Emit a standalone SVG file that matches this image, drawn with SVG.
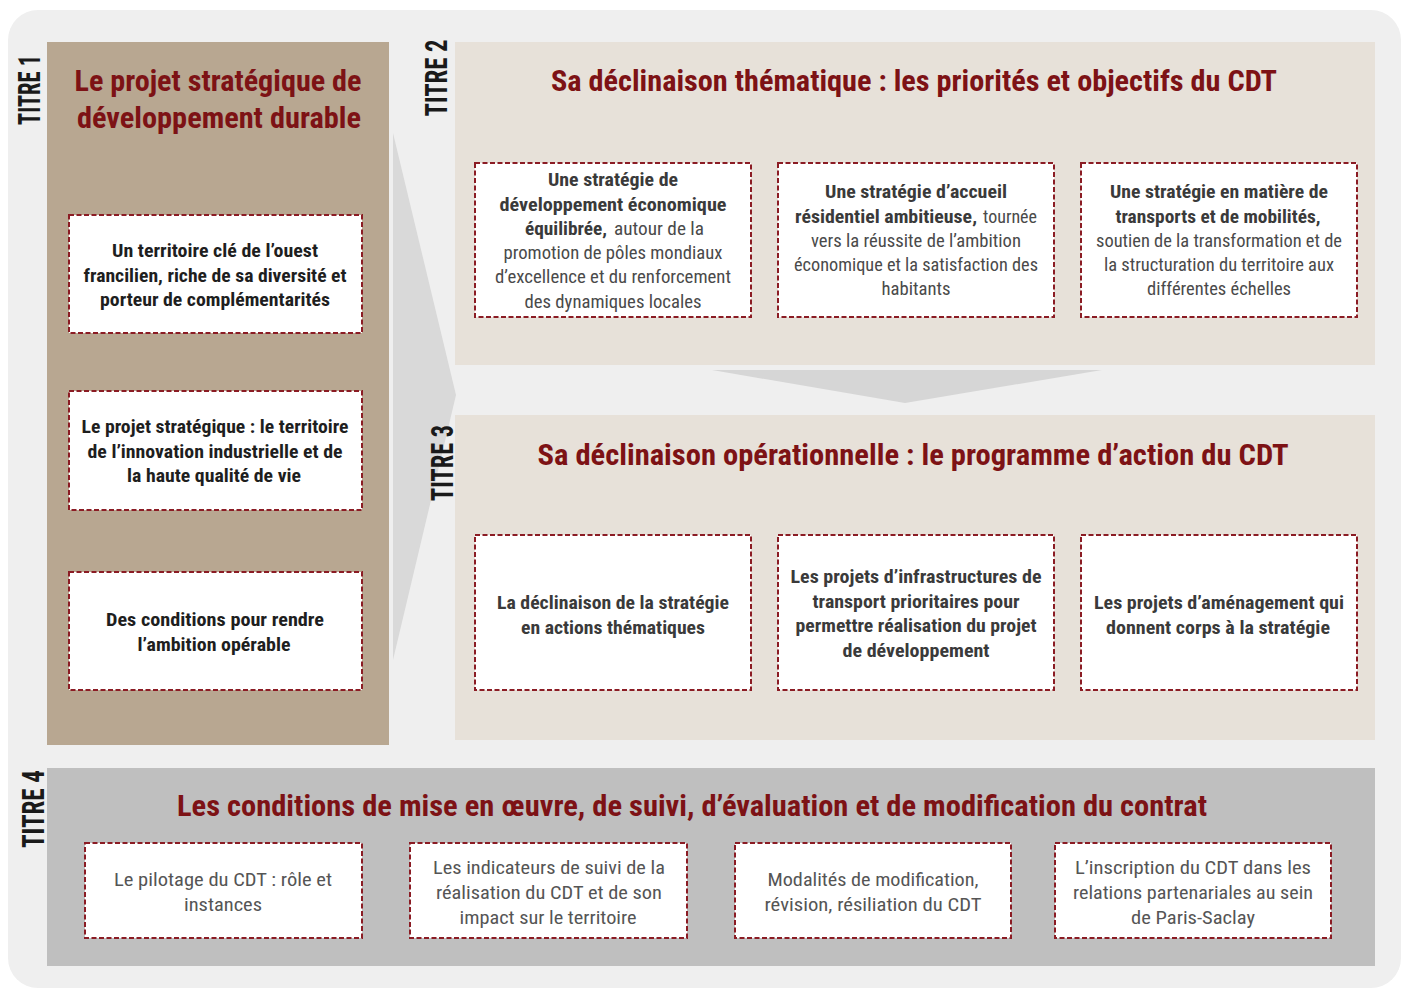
<svg xmlns="http://www.w3.org/2000/svg" width="1407" height="989" viewBox="0 0 1407 989">
<style>
.box{fill:#ffffff;stroke:#8b1c24;stroke-width:2;stroke-dasharray:5 2.5}
.t{font-family:"Liberation Sans Narrow","Roboto Condensed","Liberation Sans",Arial,sans-serif;text-anchor:middle}
.title{font-size:29px;font-weight:bold;fill:#7d1215}
.lab{font-size:32px;font-weight:bold;fill:#1a1a1a}
.b1{font-size:19px;font-weight:bold;fill:#1e1e1e}
.bb{font-size:18.5px;font-weight:bold;fill:#3a3a3a}
.r{font-size:18.5px;fill:#4a4a4a}
.r4{font-size:19px;fill:#555555}
</style>
<rect x="0" y="0" width="1407" height="989" fill="#ffffff"/>
<rect x="8" y="10" width="1393" height="978" rx="30" fill="#efefef"/>

<g id="connectors">
<polygon points="393,133 456,395 393,660" fill="#d9d9d9"/>
<polygon points="712,370 1102,370 905,403" fill="#d6d6d6"/>
</g>

<g id="titre1">
<rect x="47" y="42" width="342" height="703" fill="#b8a791"/>
<text class="t lab" transform="translate(40,90) rotate(-90)" textLength="70" lengthAdjust="spacingAndGlyphs">TITRE 1</text>
<text class="t title" x="218" y="91" textLength="287" lengthAdjust="spacingAndGlyphs">Le projet stratégique de</text>
<text class="t title" x="219" y="128" textLength="284" lengthAdjust="spacingAndGlyphs">développement durable</text>
</g>
<g id="t1b1">
<rect class="box" x="69" y="215" width="293" height="118"/>
<text class="t b1" x="215" y="257" textLength="206" lengthAdjust="spacingAndGlyphs">Un territoire clé de l’ouest</text>
<text class="t b1" x="215" y="282" textLength="263" lengthAdjust="spacingAndGlyphs">francilien, riche de sa diversité et</text>
<text class="t b1" x="215" y="306" textLength="230" lengthAdjust="spacingAndGlyphs">porteur de complémentarités</text>
</g>
<g id="t1b2">
<rect class="box" x="69" y="391" width="293" height="119"/>
<text class="t b1" x="215" y="433" textLength="267" lengthAdjust="spacingAndGlyphs">Le projet stratégique : le territoire</text>
<text class="t b1" x="215" y="458" textLength="255" lengthAdjust="spacingAndGlyphs">de l’innovation industrielle et de</text>
<text class="t b1" x="214" y="482" textLength="174" lengthAdjust="spacingAndGlyphs">la haute qualité de vie</text>
</g>
<g id="t1b3">
<rect class="box" x="69" y="572" width="293" height="118"/>
<text class="t b1" x="215" y="626" textLength="218" lengthAdjust="spacingAndGlyphs">Des conditions pour rendre</text>
<text class="t b1" x="214" y="651" textLength="153" lengthAdjust="spacingAndGlyphs">l’ambition opérable</text>
</g>

<g id="titre2">
<rect x="455" y="42" width="920" height="323" fill="#e7e1d9"/>
<text class="t lab" transform="translate(447,78) rotate(-90)" textLength="77" lengthAdjust="spacingAndGlyphs">TITRE 2</text>
<text class="t title" x="914" y="91" textLength="726" lengthAdjust="spacingAndGlyphs">Sa déclinaison thématique : les priorités et objectifs du CDT</text>
</g>
<g id="t2b1">
<rect class="box" x="475" y="163" width="276" height="154"/>
<text class="t bb" x="613" y="186" textLength="130" lengthAdjust="spacingAndGlyphs">Une stratégie de</text>
<text class="t bb" x="613" y="211" textLength="227" lengthAdjust="spacingAndGlyphs">développement économique</text>
<text class="t bb" x="566" y="235" textLength="82" lengthAdjust="spacingAndGlyphs">équilibrée,</text>
<text class="t r" x="659" y="235" textLength="90" lengthAdjust="spacingAndGlyphs">autour de la</text>
<text class="t r" x="613" y="259" textLength="219" lengthAdjust="spacingAndGlyphs">promotion de pôles mondiaux</text>
<text class="t r" x="613" y="283" textLength="236" lengthAdjust="spacingAndGlyphs">d’excellence et du renforcement</text>
<text class="t r" x="613" y="308" textLength="177" lengthAdjust="spacingAndGlyphs">des dynamiques locales</text>
</g>
<g id="t2b2">
<rect class="box" x="778" y="163" width="276" height="154"/>
<text class="t bb" x="916" y="198" textLength="182" lengthAdjust="spacingAndGlyphs">Une stratégie d’accueil</text>
<text class="t bb" x="886" y="223" textLength="182" lengthAdjust="spacingAndGlyphs">résidentiel ambitieuse,</text>
<text class="t r" x="1010" y="223" textLength="54" lengthAdjust="spacingAndGlyphs">tournée</text>
<text class="t r" x="916" y="247" textLength="210" lengthAdjust="spacingAndGlyphs">vers la réussite de l’ambition</text>
<text class="t r" x="916" y="271" textLength="244" lengthAdjust="spacingAndGlyphs">économique et la satisfaction des</text>
<text class="t r" x="916" y="295" textLength="69" lengthAdjust="spacingAndGlyphs">habitants</text>
</g>
<g id="t2b3">
<rect class="box" x="1081" y="163" width="276" height="154"/>
<text class="t bb" x="1219" y="198" textLength="218" lengthAdjust="spacingAndGlyphs">Une stratégie en matière de</text>
<text class="t bb" x="1218" y="223" textLength="205" lengthAdjust="spacingAndGlyphs">transports et de mobilités,</text>
<text class="t r" x="1219" y="247" textLength="246" lengthAdjust="spacingAndGlyphs">soutien de la transformation et de</text>
<text class="t r" x="1219" y="271" textLength="230" lengthAdjust="spacingAndGlyphs">la structuration du territoire aux</text>
<text class="t r" x="1219" y="295" textLength="144" lengthAdjust="spacingAndGlyphs">différentes échelles</text>
</g>

<g id="titre3">
<rect x="455" y="415" width="920" height="325" fill="#e7e1d9"/>
<text class="t lab" transform="translate(453,463) rotate(-90)" textLength="76" lengthAdjust="spacingAndGlyphs">TITRE 3</text>
<text class="t title" x="913" y="465" textLength="751" lengthAdjust="spacingAndGlyphs">Sa déclinaison opérationnelle : le programme d’action du CDT</text>
</g>
<g id="t3b1">
<rect class="box" x="475" y="535" width="276" height="155"/>
<text class="t bb" x="613" y="609" textLength="232" lengthAdjust="spacingAndGlyphs">La déclinaison de la stratégie</text>
<text class="t bb" x="613" y="634" textLength="184" lengthAdjust="spacingAndGlyphs">en actions thématiques</text>
</g>
<g id="t3b2">
<rect class="box" x="778" y="535" width="276" height="155"/>
<text class="t bb" x="916" y="583" textLength="251" lengthAdjust="spacingAndGlyphs">Les projets d’infrastructures de</text>
<text class="t bb" x="916" y="608" textLength="207" lengthAdjust="spacingAndGlyphs">transport prioritaires pour</text>
<text class="t bb" x="916" y="632" textLength="241" lengthAdjust="spacingAndGlyphs">permettre réalisation du projet</text>
<text class="t bb" x="916" y="657" textLength="147" lengthAdjust="spacingAndGlyphs">de développement</text>
</g>
<g id="t3b3">
<rect class="box" x="1081" y="535" width="276" height="155"/>
<text class="t bb" x="1219" y="609" textLength="250" lengthAdjust="spacingAndGlyphs">Les projets d’aménagement qui</text>
<text class="t bb" x="1218" y="634" textLength="224" lengthAdjust="spacingAndGlyphs">donnent corps à la stratégie</text>
</g>

<g id="titre4">
<rect x="47" y="768" width="1328" height="198" fill="#bfbfbf"/>
<text class="t lab" transform="translate(44,809) rotate(-90)" textLength="78" lengthAdjust="spacingAndGlyphs">TITRE 4</text>
<text class="t title" x="692" y="816" textLength="1030" lengthAdjust="spacingAndGlyphs">Les conditions de mise en œuvre, de suivi, d’évaluation et de modification du contrat</text>
</g>
<g id="t4b1">
<rect class="box" x="85" y="843" width="277" height="95"/>
<text class="t r4" x="223" y="886" textLength="218" lengthAdjust="spacingAndGlyphs">Le pilotage du CDT : rôle et</text>
<text class="t r4" x="223" y="911" textLength="78" lengthAdjust="spacingAndGlyphs">instances</text>
</g>
<g id="t4b2">
<rect class="box" x="410" y="843" width="277" height="95"/>
<text class="t r4" x="549" y="874" textLength="232" lengthAdjust="spacingAndGlyphs">Les indicateurs de suivi de la</text>
<text class="t r4" x="549" y="899" textLength="226" lengthAdjust="spacingAndGlyphs">réalisation du CDT et de son</text>
<text class="t r4" x="548" y="924" textLength="177" lengthAdjust="spacingAndGlyphs">impact sur le territoire</text>
</g>
<g id="t4b3">
<rect class="box" x="735" y="843" width="276" height="95"/>
<text class="t r4" x="873" y="886" textLength="211" lengthAdjust="spacingAndGlyphs">Modalités de modification,</text>
<text class="t r4" x="873" y="911" textLength="217" lengthAdjust="spacingAndGlyphs">révision, résiliation du CDT</text>
</g>
<g id="t4b4">
<rect class="box" x="1055" y="843" width="276" height="95"/>
<text class="t r4" x="1193" y="874" textLength="236" lengthAdjust="spacingAndGlyphs">L’inscription du CDT dans les</text>
<text class="t r4" x="1193" y="899" textLength="240" lengthAdjust="spacingAndGlyphs">relations partenariales au sein</text>
<text class="t r4" x="1193" y="924" textLength="124" lengthAdjust="spacingAndGlyphs">de Paris-Saclay</text>
</g>
</svg>
